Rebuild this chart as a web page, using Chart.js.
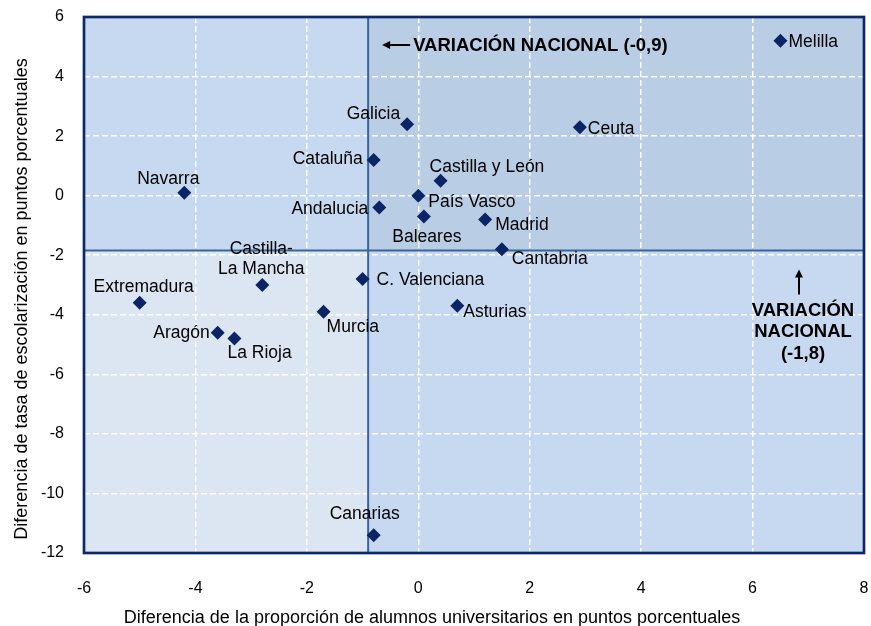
<!DOCTYPE html>
<html><head><meta charset="utf-8">
<script src="https://cdn.jsdelivr.net/npm/chart.js@4/dist/chart.umd.min.js"></script>
<style>html,body{margin:0;padding:0;background:#fff}#wrap{width:871px;height:626px;position:relative}</style>
</head><body><div id="wrap"><canvas id="c" width="871" height="626"></canvas></div>
<script>
const regions = ['Melilla','Ceuta','Galicia','Cataluña','Castilla y León','Navarra','País Vasco','Andalucia','Baleares','Madrid','Cantabria','C. Valenciana','Asturias','Murcia','Canarias','Castilla-La Mancha','Extremadura','Aragón','La Rioja'];
const xValues = [6.5, 2.9, -0.2, -0.8, 0.4, -4.2, 0.0, -0.7, 0.1, 1.2, 1.5, -1.0, 0.7, -1.7, -0.8, -2.8, -5.0, -3.6, -3.3];
const yValues = [5.2, 2.3, 2.4, 1.2, 0.5, 0.1, 0.0, -0.4, -0.7, -0.8, -1.8, -2.8, -3.7, -3.9, -11.4, -3.0, -3.6, -4.6, -4.8];
const xTicks = [-6, -4, -2, 0, 2, 4, 6, 8];
const yTicks = [-12, -10, -8, -6, -4, -2, 0, 2, 4, 6];
const nationalX = -0.9;
const nationalY = -1.84;
const nationalXLabel = 'VARIACIÓN NACIONAL (-0,9)';
const nationalYLabel = ['VARIACIÓN', 'NACIONAL', '(-1,8)'];
const xTitle = 'Diferencia de la proporción de alumnos universitarios en puntos porcentuales';
const yTitle = 'Diferencia de tasa de escolarización en puntos porcentuales';

const labelStyle = {
  'Melilla': {dx: 8, dy: 1, align: 'left'},
  'Ceuta': {dx: 8, dy: 2, align: 'left'},
  'Galicia': {dx: -7, dy: -10, align: 'right'},
  'Cataluña': {dx: -11, dy: -1, align: 'right'},
  'Castilla y León': {dx: -11, dy: -14, align: 'left'},
  'Navarra': {dx: -16, dy: -14, align: 'center'},
  'País Vasco': {dx: 10, dy: 7, align: 'left'},
  'Andalucia': {dx: -11, dy: 2, align: 'right'},
  'Baleares': {dx: 3, dy: 21, align: 'center'},
  'Madrid': {dx: 10, dy: 6, align: 'left'},
  'Cantabria': {dx: 10, dy: 10, align: 'left'},
  'C. Valenciana': {dx: 14, dy: 1, align: 'left'},
  'Asturias': {dx: 6, dy: 6, align: 'left'},
  'Murcia': {dx: 3, dy: 15, align: 'left'},
  'Canarias': {dx: -9, dy: -21, align: 'center'},
  'Castilla-La Mancha': {dx: -1, dy: -36, align: 'center', lines: ['Castilla-', 'La Mancha']},
  'Extremadura': {dx: 4, dy: -16, align: 'center'},
  'Aragón': {dx: -8, dy: 1, align: 'right'},
  'La Rioja': {dx: -7, dy: 15, align: 'left'}
};

const points = xValues.map((x, i) => ({x: x, y: yValues[i]}));

function arrow(ctx, x1, y1, x2, y2) {
  const ang = Math.atan2(y2 - y1, x2 - x1);
  const head = 8, hw = 4;
  ctx.beginPath();
  ctx.moveTo(x1, y1);
  ctx.lineTo(x2 - Math.cos(ang) * head * 0.8, y2 - Math.sin(ang) * head * 0.8);
  ctx.lineWidth = 2;
  ctx.strokeStyle = '#000';
  ctx.stroke();
  ctx.beginPath();
  ctx.moveTo(x2, y2);
  ctx.lineTo(x2 - Math.cos(ang) * head - Math.sin(ang) * hw, y2 - Math.sin(ang) * head + Math.cos(ang) * hw);
  ctx.lineTo(x2 - Math.cos(ang) * head + Math.sin(ang) * hw, y2 - Math.sin(ang) * head - Math.cos(ang) * hw);
  ctx.closePath();
  ctx.fillStyle = '#000';
  ctx.fill();
}

const quadPlugin = {
  id: 'quad',
  beforeDraw(chart) {
    const {ctx, chartArea: a, scales} = chart;
    const xm = scales.x.getPixelForValue(nationalX);
    const ym = scales.y.getPixelForValue(nationalY);
    ctx.save();
    ctx.fillStyle = '#c6d9f0'; ctx.fillRect(a.left, a.top, xm - a.left, ym - a.top);
    ctx.fillStyle = '#b9cde5'; ctx.fillRect(xm, a.top, a.right - xm, ym - a.top);
    ctx.fillStyle = '#dce6f2'; ctx.fillRect(a.left, ym, xm - a.left, a.bottom - ym);
    ctx.fillStyle = '#c6d9f0'; ctx.fillRect(xm, ym, a.right - xm, a.bottom - ym);
    ctx.restore();
  },
  beforeDatasetsDraw(chart) {
    const {ctx, chartArea: a, scales} = chart;
    const xm = scales.x.getPixelForValue(nationalX);
    const ym = scales.y.getPixelForValue(nationalY);
    ctx.save();
    ctx.strokeStyle = '#3a659b';
    ctx.lineWidth = 2;
    ctx.beginPath();
    ctx.moveTo(xm, a.top); ctx.lineTo(xm, a.bottom);
    ctx.moveTo(a.left, ym); ctx.lineTo(a.right, ym);
    ctx.stroke();
    const ty = a.top + 28;
    arrow(ctx, xm + 42, ty, xm + 14, ty);
    ctx.font = 'bold 18.5px "Liberation Sans", Arial, sans-serif';
    ctx.fillStyle = '#000';
    ctx.textBaseline = 'middle';
    ctx.textAlign = 'left';
    ctx.fillText(nationalXLabel, xm + 45, ty + 1);
    const ax = a.right - 65;
    arrow(ctx, ax, ym + 44, ax, ym + 19);
    ctx.textAlign = 'center';
    nationalYLabel.forEach((t, i) => ctx.fillText(t, a.right - 61, ym + 60 + i * 21.5));
    ctx.restore();
  },
  afterDatasetsDraw(chart) {
    const {ctx} = chart;
    const meta = chart.getDatasetMeta(0);
    ctx.save();
    ctx.font = '17.5px "Liberation Sans", Arial, sans-serif';
    ctx.fillStyle = '#000';
    ctx.textBaseline = 'middle';
    meta.data.forEach((el, i) => {
      const s = labelStyle[regions[i]] || {dx: 8, dy: 0, align: 'left'};
      ctx.textAlign = s.align;
      const lines = s.lines || [regions[i]];
      lines.forEach((t, k) => ctx.fillText(t, el.x + s.dx, el.y + s.dy + k * 20));
    });
    ctx.restore();
  },
  afterDraw(chart) {
    const {ctx, chartArea: a} = chart;
    ctx.save();
    ctx.strokeStyle = '#0d2a68';
    ctx.lineWidth = 2.7;
    ctx.strokeRect(a.left, a.top, a.right - a.left, a.bottom - a.top);
    // axis titles
    ctx.fillStyle = '#000';
    ctx.font = '18px "Liberation Sans", Arial, sans-serif';
    ctx.textAlign = 'center';
    ctx.textBaseline = 'alphabetic';
    ctx.fillText(xTitle, 432, 623);
    ctx.translate(27, 299);
    ctx.rotate(-Math.PI / 2);
    ctx.fillText(yTitle, 0, 0);
    ctx.restore();
  }
};

new Chart(document.getElementById('c'), {
  type: 'scatter',
  data: {
    datasets: [{
      label: 'Comunidades',
      data: points,
      pointStyle: 'rectRot',
      pointRadius: 7,
      pointHoverRadius: 7,
      backgroundColor: '#0a2466',
      borderColor: '#0a2466',
      borderWidth: 0
    }]
  },
  options: {
    responsive: false,
    animation: false,
    devicePixelRatio: 1,
    layout: {padding: {top: 17, right: 7, left: 0, bottom: 0}},
    plugins: {legend: {display: false}, tooltip: {enabled: false}},
    scales: {
      x: {
        type: 'linear', min: -6, max: 8,
        afterBuildTicks(s) { s.ticks = xTicks.map(v => ({value: v})); },
        afterFit(s) { s.height = 73; s.paddingLeft = 0; s.paddingRight = 0; },
        grid: {color: 'rgba(255,255,255,0.95)', lineWidth: 1.5, drawTicks: false},
        border: {display: false, dash: [6, 3]},
        ticks: {color: '#000', font: {family: '"Liberation Sans", Arial', size: 16}, padding: 26, callback: v => String(v)},
        title: {display: false}
      },
      y: {
        type: 'linear', min: -12, max: 6,
        afterBuildTicks(s) { s.ticks = yTicks.map(v => ({value: v})); },
        afterFit(s) { s.width = 84; s.paddingTop = 0; s.paddingBottom = 0; },
        grid: {color: 'rgba(255,255,255,0.95)', lineWidth: 1.5, drawTicks: false},
        border: {display: false, dash: [6, 3]},
        ticks: {color: '#000', font: {family: '"Liberation Sans", Arial', size: 16}, padding: 20, callback: v => String(v)},
        title: {display: false}
      }
    }
  },
  plugins: [quadPlugin]
});
</script>
</body></html>
